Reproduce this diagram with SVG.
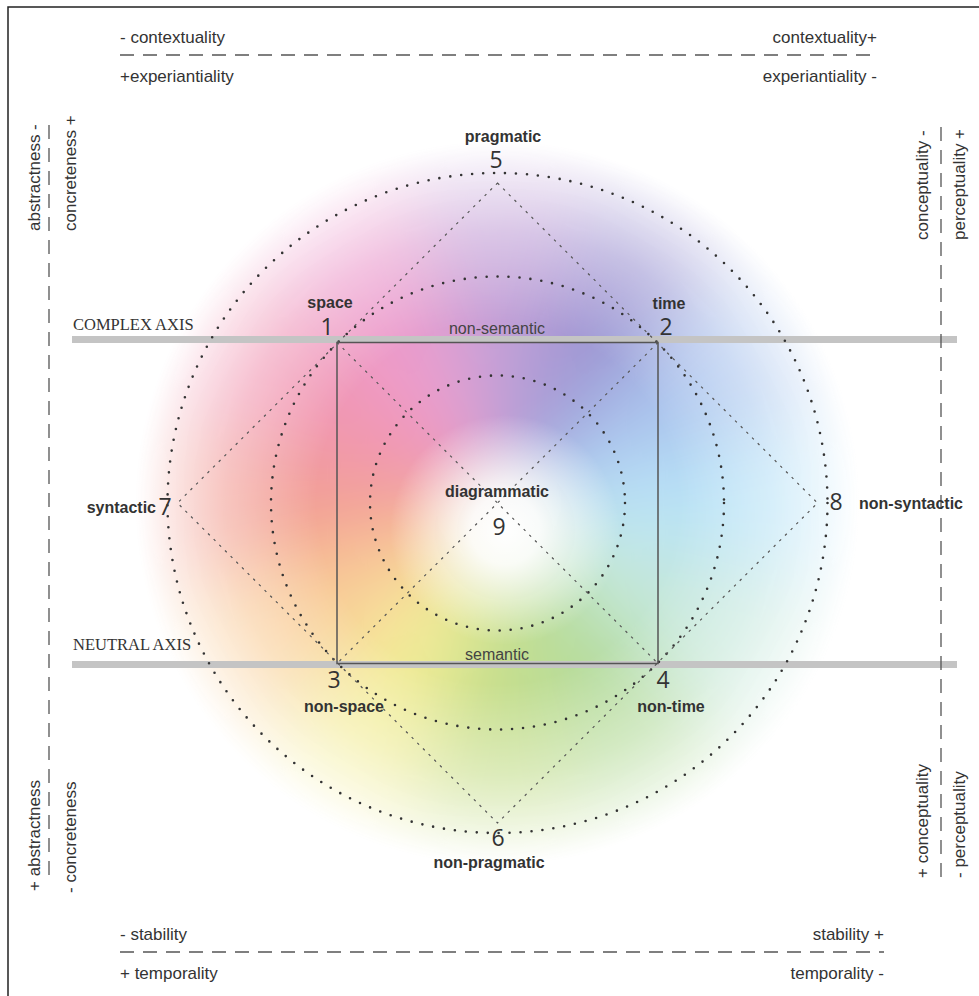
<svg xmlns="http://www.w3.org/2000/svg" width="979" height="996" viewBox="0 0 979 996">
  <style>
    .lbl { font-family: "Liberation Sans", Arial, sans-serif; font-size: 17px; fill: #333; }
    .bold { font-family: "Liberation Sans", Arial, sans-serif; font-size: 16px; font-weight: bold; fill: #333; }
    .reg { font-family: "Liberation Sans", Arial, sans-serif; font-size: 16px; fill: #444; }
    .num { font-family: "Open Sans", "Liberation Sans", sans-serif; font-size: 23px; fill: #333; }
    .axis { font-family: "Liberation Serif", "Times New Roman", serif; font-size: 16.5px; fill: #333; }
    .dash { stroke: #555; stroke-width: 1.3; fill: none; stroke-dasharray: 14 9; }
    .dots { stroke: #333; stroke-width: 2.6; fill: none; stroke-linecap: round; stroke-dasharray: 0 11; }
    .fine { stroke: #555; stroke-width: 1.2; fill: none; stroke-dasharray: 2.5 5.5; }
    .bar { fill: #c4c4c4; }
  </style>
  <defs>
    <filter id="soft" x="-40%" y="-40%" width="180%" height="180%">
      <feGaussianBlur stdDeviation="38"/>
    </filter>
    <radialGradient id="edgeFade" cx="497.5" cy="503" r="362" gradientUnits="userSpaceOnUse">
      <stop offset="0" stop-color="#fff"/>
      <stop offset="0.5" stop-color="#fff"/>
      <stop offset="0.75" stop-color="#999"/>
      <stop offset="0.9" stop-color="#444"/>
      <stop offset="1" stop-color="#000"/>
    </radialGradient>
    <mask id="discMask">
      <circle cx="497.5" cy="503" r="362" fill="url(#edgeFade)"/>
    </mask>
    <radialGradient id="core" cx="505" cy="530" r="115" gradientUnits="userSpaceOnUse">
      <stop offset="0" stop-color="#fff" stop-opacity="1"/>
      <stop offset="0.3" stop-color="#fff" stop-opacity="0.9"/>
      <stop offset="1" stop-color="#fff" stop-opacity="0"/>
    </radialGradient>
  </defs>

  <!-- page -->
  <rect x="0" y="0" width="979" height="996" fill="#fff"/>
  <path d="M8 996 V7 H979" fill="none" stroke="#222" stroke-width="1.5"/>

  <!-- colour wheel backdrop -->
  <g id="wheel" mask="url(#discMask)">
    <g filter="url(#soft)">
      <polygon points="497.5,503 883.9,399.5 883.9,606.5" fill="#b9e3f7"/>
      <polygon points="497.5,503 883.9,606.5 780.3,785.8" fill="#c6e8dc"/>
      <polygon points="497.5,503 780.3,785.8 601,889.4" fill="#b5dc9c"/>
      <polygon points="497.5,503 601,889.4 394,889.4" fill="#c5de8c"/>
      <polygon points="497.5,503 394,889.4 214.7,785.8" fill="#f3ed98"/>
      <polygon points="497.5,503 214.7,785.8 111.1,606.5" fill="#f9cd98"/>
      <polygon points="497.5,503 111.1,606.5 111.1,399.5" fill="#f29e94"/>
      <polygon points="497.5,503 111.1,399.5 214.7,220.2" fill="#f197b4"/>
      <polygon points="497.5,503 214.7,220.2 394,116.6" fill="#ec9ccd"/>
      <polygon points="497.5,503 394,116.6 601,116.6" fill="#c3a2d8"/>
      <polygon points="497.5,503 601,116.6 780.3,220.2" fill="#9c94d2"/>
      <polygon points="497.5,503 780.3,220.2 883.9,399.5" fill="#abc5ee"/>
    </g>
    <circle cx="505" cy="530" r="115" fill="url(#core)"/>
  </g>

  <!-- axis bars -->
  <rect class="bar" x="72" y="336" width="885" height="7"/>
  <rect class="bar" x="72" y="661" width="885" height="7"/>
  <text class="axis" x="73" y="330">COMPLEX AXIS</text>
  <text class="axis" x="73" y="650">NEUTRAL AXIS</text>

  <!-- frame scales -->
  <g id="scales">
    <line class="dash" x1="120" y1="55" x2="877" y2="55"/>
    <line class="dash" x1="120" y1="952" x2="884" y2="952"/>
    <line class="dash" x1="49" y1="125" x2="49" y2="880"/>
    <line class="dash" x1="941" y1="127" x2="941" y2="878"/>
    <text class="lbl" x="120" y="43">- contextuality</text>
    <text class="lbl" x="120" y="82">+experiantiality</text>
    <text class="lbl" x="877" y="43" text-anchor="end">contextuality+</text>
    <text class="lbl" x="877" y="82" text-anchor="end">experiantiality -</text>
    <text class="lbl" x="120" y="940">- stability</text>
    <text class="lbl" x="120" y="979">+ temporality</text>
    <text class="lbl" x="884" y="940" text-anchor="end">stability +</text>
    <text class="lbl" x="884" y="979" text-anchor="end">temporality -</text>
    <text class="lbl" transform="translate(40,231) rotate(-90)">abstractness -</text>
    <text class="lbl" transform="translate(76,231) rotate(-90)">concreteness +</text>
    <text class="lbl" transform="translate(40,891) rotate(-90)">+ abstractness</text>
    <text class="lbl" transform="translate(76,893) rotate(-90)">- concreteness</text>
    <text class="lbl" transform="translate(928,240) rotate(-90)">conceptuality -</text>
    <text class="lbl" transform="translate(965,240) rotate(-90)">perceptuality +</text>
    <text class="lbl" transform="translate(928,878) rotate(-90)">+ conceptuality</text>
    <text class="lbl" transform="translate(965,878) rotate(-90)">- perceptuality</text>
  </g>

  <!-- connectors: circles, diamond, square and diagonals -->
  <g id="connectors">
    <circle class="dots" cx="497.5" cy="503" r="330"/>
    <circle class="dots" cx="497.5" cy="503" r="226.5"/>
    <circle class="dots" cx="497.5" cy="503" r="127.5"/>
    <polygon class="fine" points="497.5,183 817.5,503 497.5,823 177.5,503"/>
    <line class="fine" x1="337" y1="342.5" x2="658" y2="663.5"/>
    <line class="fine" x1="658" y1="342.5" x2="337" y2="663.5"/>
    <rect x="337" y="342.5" width="321" height="321" fill="none" stroke="#555" stroke-width="1.5"/>
  </g>

  <!-- nodes -->
  <g id="n1"><text class="bold" x="330" y="308" text-anchor="middle">space</text><text class="num" x="327" y="335" text-anchor="middle">1</text></g>
  <g id="n2"><text class="bold" x="669" y="309" text-anchor="middle">time</text><text class="num" x="666" y="335" text-anchor="middle">2</text></g>
  <g id="n3"><text class="num" x="334" y="688" text-anchor="middle">3</text><text class="bold" x="344" y="712" text-anchor="middle">non-space</text></g>
  <g id="n4"><text class="num" x="663" y="688" text-anchor="middle">4</text><text class="bold" x="671" y="712" text-anchor="middle">non-time</text></g>
  <g id="n5"><text class="bold" x="503" y="142" text-anchor="middle">pragmatic</text><text class="num" x="496" y="168" text-anchor="middle">5</text></g>
  <g id="n6"><text class="num" x="498" y="846" text-anchor="middle">6</text><text class="bold" x="489" y="868" text-anchor="middle">non-pragmatic</text></g>
  <g id="n7"><text class="bold" x="156" y="513" text-anchor="end">syntactic</text><text class="num" x="165" y="515" text-anchor="middle">7</text></g>
  <g id="n8"><text class="num" x="836" y="510" text-anchor="middle">8</text><text class="bold" x="859" y="509">non-syntactic</text></g>
  <g id="n9"><text class="bold" x="497" y="497" text-anchor="middle">diagrammatic</text><text class="num" x="499" y="535" text-anchor="middle">9</text></g>
  <g id="edges-labels">
    <text class="reg" x="497" y="334" text-anchor="middle">non-semantic</text>
    <text class="reg" x="497" y="660" text-anchor="middle">semantic</text>
  </g>
</svg>
